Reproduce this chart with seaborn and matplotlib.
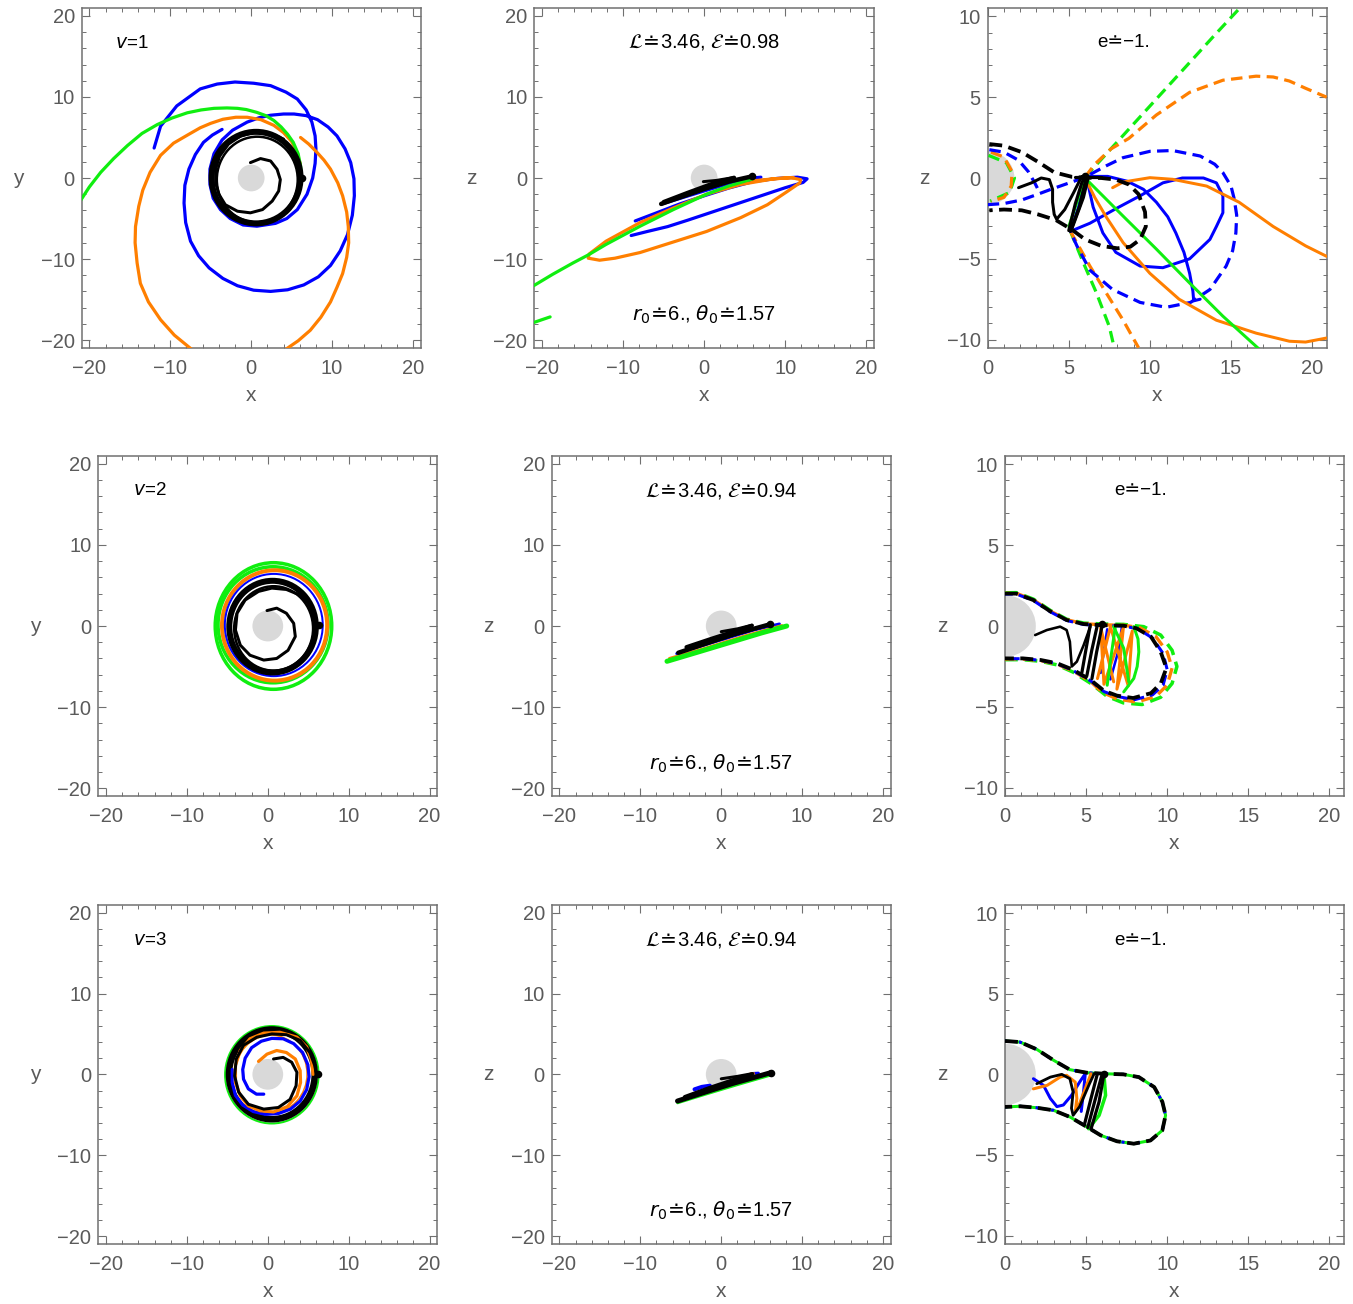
import matplotlib
matplotlib.use("Agg")
import matplotlib.pyplot as plt
import seaborn as sns
from matplotlib.patches import Circle, Ellipse
from matplotlib.ticker import MultipleLocator

# ---------------------------------------------------------------- data
# annotations
V_LABELS = ["$v$=1", "$v$=2", "$v$=3"]
LE_LABELS = [r"$\mathcal{L}\!\doteq\!$3.46, $\mathcal{E}\!\doteq\!$0.98",
             r"$\mathcal{L}\!\doteq\!$3.46, $\mathcal{E}\!\doteq\!$0.94",
             r"$\mathcal{L}\!\doteq\!$3.46, $\mathcal{E}\!\doteq\!$0.94"]
R0_LABEL = r"$r_0\!\doteq\!$6., $\theta_0\!\doteq\!$1.57"
E_LABEL = "e≐−1."
DISK_R = [1.65, 1.9, 1.9]

# ---- row 1, x-y
P11_BLUE = [(-12.0, 3.7), (-11.2, 6.4), (-9.2, 8.9), (-6.3, 11.0), (-4.2, 11.6), (-2.0, 11.85), (0.3, 11.7),
            (2.4, 11.4), (4.3, 10.6), (5.7, 9.75), (6.8, 8.4), (7.5, 6.9), (7.9, 5.2), (8.0, 3.6), (7.9, 1.8),
            (7.6, 0.0), (6.9, -2.0), (5.7, -3.9), (4.4, -5.0), (3.0, -5.6), (0.7, -5.95), (-1.0, -5.8),
            (-2.6, -5.0), (-3.8, -3.9), (-4.7, -2.5), (-5.1, -0.8), (-5.1, 1.1), (-4.6, 3.0), (-3.6, 4.7),
            (-2.3, 5.9), (-0.5, 6.9), (1.0, 7.45), (2.4, 7.75), (4.0, 7.9), (5.3, 7.9), (6.8, 7.7), (8.2, 7.2),
            (9.5, 6.3), (10.6, 5.2), (11.6, 3.6), (12.3, 1.9), (12.7, -0.1), (12.75, -2.2), (12.5, -4.6),
            (11.9, -7.0), (11.0, -9.0), (9.8, -10.8), (8.3, -12.2), (6.5, -13.2), (4.5, -13.8), (2.4, -14.0),
            (0.3, -13.85), (-1.7, -13.3), (-3.5, -12.4), (-5.2, -11.1), (-6.5, -9.6), (-7.5, -7.8), (-8.1, -5.5),
            (-8.3, -3.1), (-8.2, -0.9), (-7.7, 1.1), (-6.9, 2.9), (-5.9, 4.4), (-4.8, 5.3), (-3.6, 6.0)]
P11_ORANGE_A = [(6.1, 0.3), (6.05, 1.8), (5.6, 3.3), (5.0, 4.5), (4.0, 5.6), (2.8, 6.5), (1.2, 7.2), (-0.5, 7.5),
                (-1.9, 7.5), (-3.5, 7.25), (-5.0, 6.75), (-6.3, 6.2), (-7.7, 5.4), (-9.6, 4.3), (-11.2, 2.8),
                (-12.5, 0.7), (-13.4, -1.5), (-13.9, -3.5), (-14.3, -6.0), (-14.35, -8.0), (-14.1, -10.5),
                (-13.7, -13.0), (-12.7, -15.3), (-11.2, -17.5), (-9.5, -19.4), (-7.3, -21.2)]
P11_ORANGE_B = [(6.1, 5.0), (7.1, 4.2), (8.1, 3.2), (9.0, 2.2), (9.8, 1.1), (10.7, -0.6), (11.3, -2.2),
                (11.8, -4.2), (12.0, -6.0), (12.05, -8.0), (11.8, -9.8), (11.3, -11.8), (10.6, -13.5),
                (9.8, -15.3), (8.6, -17.2), (7.3, -18.8), (5.8, -20.1), (4.2, -21.2)]
P11_GREEN = [(6.2, 0.25), (6.1, 1.5), (5.8, 3.0), (5.2, 4.4), (4.5, 5.4), (3.7, 6.3), (2.8, 7.1), (1.8, 7.7),
             (0.7, 8.1), (-0.6, 8.45), (-1.7, 8.6), (-3.0, 8.65), (-4.6, 8.6), (-6.2, 8.4), (-7.9, 8.05),
             (-9.8, 7.4), (-11.6, 6.6), (-13.5, 5.5), (-15.3, 4.0), (-17.0, 2.4), (-18.6, 0.7), (-20.0, -1.1),
             (-21.3, -3.1)]
P11_BLACK_SPIRAL = [(-0.1, 1.9), (1.15, 2.4), (2.4, 2.1), (3.2, 1.07), (3.6, -0.2), (3.4, -1.6), (2.6, -2.85),
                    (1.4, -3.9), (-0.1, -4.3), (-1.7, -4.1), (-3.2, -3.3), (-4.0, -2.0), (-4.4, -0.6),
                    (-4.4, 1.1), (-3.9, 2.7), (-2.8, 4.2), (-1.3, 5.2), (0.3, 5.6), (2.4, 5.5), (4.0, 4.8)]
# rings: (cx, cy, width, height, line width px)
P11_BLACK_RINGS = [(0.6, 0.05, 11.0, 11.3, 6.0), (0.75, -0.2, 10.0, 10.6, 2.5)]
P11_DOT = [(6.3, 0.0)]

# ---- row 1, x-z wide
P12_BLUE_A = [(-8.5, -5.3), (-6.0, -4.35), (-3.0, -3.2), (0.0, -2.2), (3.0, -1.25), (6.0, -0.45), (9.0, -0.05),
              (11.5, 0.1), (12.7, -0.1), (12.2, -0.55), (10.0, -1.2), (7.0, -2.2), (4.0, -3.2), (1.0, -4.2),
              (-2.0, -5.2), (-4.5, -6.0), (-7.0, -6.6), (-9.0, -7.1)]
P12_BLUE_B = [(-5.2, -3.2), (0.0, -1.6), (5.0, -0.1), (7.0, 0.1)]
P12_ORANGE = [(6.0, -0.35), (8.6, -0.1), (10.7, 0.05), (11.9, -0.2), (11.8, -0.6), (10.2, -1.7), (7.8, -3.3),
              (4.5, -4.9), (0.3, -6.6), (-3.8, -7.9), (-7.9, -9.2), (-11.0, -9.9), (-12.9, -10.15),
              (-14.3, -9.9), (-14.2, -9.4), (-12.1, -7.8), (-7.9, -5.5), (-3.8, -3.7), (0.3, -2.0),
              (4.5, -0.8), (8.6, -0.1), (11.0, 0.05)]
P12_GREEN_A = [(6.0, -0.1), (3.0, -1.0), (0.3, -2.0), (-3.8, -3.9), (-7.9, -5.95), (-12.1, -8.2),
               (-14.3, -9.5), (-16.2, -10.5), (-18.7, -11.9), (-21.2, -13.4)]
P12_GREEN_B = [(-21.2, -17.9), (-19.0, -17.15)]
P12_BLACK_A = [(-5.3, -3.2), (-3.0, -2.4), (0.0, -1.35), (3.0, -0.45), (5.9, 0.2)]
P12_BLACK_B = [(-5.0, -2.95), (-2.0, -1.8), (1.0, -0.7), (3.7, 0.05)]
P12_BLACK_C = [(-0.1, -0.45), (1.5, -0.3), (3.6, 0.05)]
P12_DOT = [(5.95, 0.25)]

# ---- row 1, x-z zoom
P13_BLACK_DASH = [(0.1, 2.1), (1.0, 2.0), (2.1, 1.6), (3.1, 1.0), (4.1, 0.35), (5.2, 0.07), (6.0, 0.02),
                  (7.0, 0.0), (7.9, -0.1), (8.7, -0.4), (9.3, -1.0), (9.7, -2.1), (9.75, -3.0), (9.4, -3.8),
                  (8.8, -4.25), (8.0, -4.35), (7.0, -4.2), (6.0, -3.8), (5.2, -3.2), (4.2, -2.6), (3.1, -2.25),
                  (2.1, -2.0), (1.0, -1.95), (0.1, -2.0)]
P13_BLUE_DASH_A = [(0.1, 1.75), (1.0, 1.6), (1.9, 1.1), (2.5, 0.4), (2.9, -0.3), (3.2, -0.9)]
P13_BLUE_DASH_B = [(0.0, -1.65), (1.0, -1.58), (2.1, -1.36), (3.1, -1.0), (3.9, -0.7), (4.75, -0.4), (5.6, -0.1),
                   (6.0, 0.05), (7.3, 0.75), (8.35, 1.26), (10.0, 1.65), (11.4, 1.7), (13.1, 1.36), (14.0, 0.85),
                   (14.5, 0.33), (15.0, -0.5), (15.2, -1.3), (15.35, -2.3), (15.3, -3.4), (15.1, -4.5),
                   (14.7, -5.45), (13.7, -6.9), (12.5, -7.7), (11.0, -8.0), (9.4, -7.7), (7.7, -6.9),
                   (6.3, -5.7), (5.5, -4.2), (5.1, -3.3)]
P13_ORANGE_DASH_A = [(0.2, 1.6), (1.0, 1.3), (1.5, 0.4), (1.45, -0.5), (1.0, -1.2), (0.2, -1.45)]
P13_ORANGE_DASH_B = [(6.0, 0.05), (6.6, 0.85), (7.6, 1.8), (8.7, 2.45), (10.4, 3.9), (12.45, 5.3), (14.5, 6.05),
                     (16.55, 6.3), (17.6, 6.25), (18.6, 6.0), (19.6, 5.55), (20.9, 5.0)]
P13_ORANGE_DASH_C = [(5.1, -3.3), (6.3, -5.45), (7.3, -7.1), (8.35, -8.8), (9.3, -10.5)]
P13_GREEN_DASH_A = [(0.05, 1.4), (1.15, 0.95), (1.65, 0.0), (1.35, -0.9), (0.15, -1.43)]
P13_GREEN_DASH_B = [(6.0, 0.05), (8.0, 2.25), (10.0, 4.45), (12.0, 6.65), (14.0, 8.85), (15.9, 10.9)]
P13_GREEN_DASH_C = [(5.1, -3.3), (5.9, -5.25), (6.7, -7.1), (7.5, -9.2), (7.8, -10.5)]
P13_BLUE_A = [(5.1, -3.3), (6.3, -2.8), (7.9, -1.9), (9.4, -1.1), (10.8, -0.3), (12.0, 0.0), (13.3, 0.0),
              (14.1, -0.3), (14.5, -1.1), (14.5, -2.15), (14.1, -3.0), (13.7, -3.8), (12.45, -5.0),
              (10.8, -5.55), (9.4, -5.45), (7.9, -4.6), (7.1, -3.4), (6.5, -1.8), (6.1, 0.0)]
P13_BLUE_B = [(6.2, 0.1), (7.4, 0.1), (8.6, -0.2), (9.6, -0.7), (10.4, -1.5), (11.1, -2.4), (11.6, -3.4),
              (12.1, -4.6), (12.45, -5.9), (12.65, -7.0), (12.7, -7.6), (13.1, -7.5)]
P13_BLUE_C = [(5.1, -3.3), (5.6, -1.8), (6.0, 0.0)]
P13_ORANGE_A = [(6.0, 0.0), (6.6, -1.2), (7.3, -2.4), (8.35, -4.0), (10.0, -5.9), (11.8, -7.5), (14.1, -8.8),
                (16.55, -9.6), (18.6, -10.1), (19.6, -10.15), (20.9, -9.9)]
P13_ORANGE_B = [(7.7, -0.6), (8.35, -0.25), (10.0, 0.02), (11.4, -0.08), (13.5, -0.5), (15.5, -1.5),
                (17.6, -3.0), (19.6, -4.2), (20.9, -4.85)]
P13_GREEN_A = [(6.0, 0.0), (8.35, -2.36), (10.4, -4.4), (12.45, -6.5), (14.5, -8.55), (16.75, -10.6)]
P13_GREEN_B = [(5.0, -3.0), (5.5, -1.5), (5.95, 0.0)]
P13_BLACK_A = [(1.9, -0.6), (2.7, -0.3), (3.3, 0.0), (3.8, -0.1), (4.0, -0.7), (4.0, -1.5), (4.1, -2.25),
               (4.25, -2.55), (4.75, -1.95), (5.3, -0.9), (5.8, 0.1)]
P13_BLACK_B = [(5.0, -3.25), (5.4, -1.6), (5.8, -0.3), (6.0, 0.1)]
P13_BLACK_C = [(5.1, -3.3), (5.65, -1.8), (6.05, -0.1)]
P13_BLACK_D = [(5.2, -3.1), (5.9, -1.2), (6.2, 0.05)]
P13_BLACK_E = [(5.4, 0.05), (7.0, 0.05)]
P13_DOT = [(6.0, 0.1)]

# ---- row 2, x-y
# rings: (color, cx, cy, width, height, line width px)
P21_RINGS = [("green", 0.7, 0.0, 14.4, 15.6, 3.5), ("green", 0.65, 0.15, 13.6, 14.3, 3.5),
             ("orange", 0.84, 0.07, 13.0, 13.6, 4.0), ("blue", 0.74, 0.12, 12.1, 12.6, 2.0),
             ("black", 0.59, -0.08, 10.7, 11.3, 6.0), ("black", 0.72, -0.3, 9.75, 10.4, 2.5)]
P21_BLACK_SPIRAL = [(-0.1, 1.9), (1.1, 2.2), (2.3, 1.57), (3.2, 0.33), (3.4, -1.3), (2.5, -3.0), (1.1, -4.0),
                    (-0.5, -4.2), (-2.2, -3.6), (-3.4, -2.36), (-4.0, -0.5), (-3.8, 1.57), (-2.8, 3.2),
                    (-1.15, 4.26), (0.5, 4.67), (2.3, 4.5), (4.0, 3.8), (5.2, 2.6), (5.8, 1.16), (6.0, -0.1)]
P21_DOT = [(6.3, 0.1)]

# ---- row 2, x-z wide
P22_BLUE = [(-5.5, -3.4), (0.0, -1.7), (4.0, -0.5), (7.2, 0.25)]
P22_ORANGE = [(-6.4, -4.0), (-2.0, -2.75), (3.0, -1.2), (7.5, 0.05)]
P22_GREEN = [(-6.7, -4.35), (-3.0, -3.25), (1.0, -2.05), (5.0, -0.85), (8.1, 0.0)]
P22_BLACK_A = [(-5.3, -3.3), (-2.0, -2.2), (1.5, -1.05), (4.0, -0.35), (6.0, 0.2)]
P22_BLACK_B = [(-4.3, -2.6), (-1.0, -1.5), (2.0, -0.55), (3.8, 0.05)]
P22_BLACK_C = [(0.0, -0.7), (2.0, -0.35), (3.8, 0.1)]
P22_DOT = [(6.0, 0.25)]

# ---- row 2, x-z zoom
P23_BLACK_DASH = [(0.0, 2.0), (0.7, 2.0), (1.75, 1.6), (2.8, 0.9), (3.8, 0.37), (4.85, 0.12), (6.1, 0.05),
                  (7.3, 0.02), (8.1, -0.14), (9.0, -0.66), (9.6, -1.6), (9.95, -2.6), (9.6, -3.55), (9.0, -4.15),
                  (7.9, -4.45), (6.9, -4.3), (6.1, -4.0), (5.3, -3.35), (4.2, -2.7), (3.2, -2.3), (2.2, -2.1),
                  (1.1, -2.0), (0.0, -2.0)]
P23_BLUE_DASH = [(0.0, 1.97), (0.7, 1.97), (1.75, 1.57), (2.8, 0.87), (3.8, 0.34), (4.85, 0.09), (6.1, 0.02),
                 (7.3, 0.0), (8.2, -0.18), (9.1, -0.75), (9.75, -1.7), (10.0, -2.7), (9.75, -3.65), (9.1, -4.25),
                 (8.0, -4.55), (6.9, -4.35), (6.1, -4.05), (5.3, -3.4), (4.2, -2.75), (3.2, -2.33), (2.2, -2.12),
                 (1.1, -2.02), (0.0, -2.02)]
P23_ORANGE_DASH = [(0.0, 2.02), (0.7, 2.02), (1.75, 1.62), (2.8, 0.92), (3.8, 0.39), (4.85, 0.14), (6.1, 0.07),
                   (7.3, 0.05), (8.3, -0.1), (9.3, -0.65), (10.0, -1.6), (10.3, -2.6), (10.0, -3.65), (9.3, -4.35),
                   (8.1, -4.7), (6.9, -4.5), (6.0, -4.1), (5.3, -3.45), (4.2, -2.78), (3.2, -2.36), (2.2, -2.14),
                   (1.1, -2.04), (0.0, -2.04)]
P23_GREEN_DASH = [(0.0, 2.05), (0.7, 2.06), (1.75, 1.66), (2.8, 0.96), (3.8, 0.42), (4.85, 0.18), (6.1, 0.12),
                  (7.3, 0.1), (8.55, -0.04), (9.6, -0.56), (10.3, -1.5), (10.6, -2.5), (10.3, -3.55), (9.6, -4.4),
                  (8.45, -4.85), (7.3, -4.75), (6.3, -4.35), (5.3, -3.55), (4.2, -2.85), (3.2, -2.4), (2.2, -2.18),
                  (1.1, -2.08), (0.0, -2.08)]
P23_BLUE_A = [(5.9, -2.9), (6.3, -0.2)]
P23_BLUE_B = [(6.5, -3.3), (7.0, -1.5), (7.2, -0.1)]
P23_ORANGE_Z = [(5.7, -3.25), (6.5, -0.05), (7.6, -3.7), (7.85, -0.3), (6.9, -3.9), (7.3, -0.1), (6.1, -3.6),
                (5.9, -0.1), (6.7, -3.45)]
P23_GREEN_A = [(6.3, -3.66), (6.55, -1.8), (6.8, -0.04)]
P23_GREEN_B = [(6.7, -0.04), (7.32, -1.38), (7.63, -3.45)]
P23_GREEN_C = [(7.94, -0.04), (8.2, -0.8), (8.25, -1.6), (8.15, -2.5), (7.94, -3.24), (7.32, -4.07)]
P23_BLACK_A = [(1.86, -0.56), (2.58, -0.25), (3.4, -0.04), (3.8, -0.25), (4.0, -0.97), (4.06, -1.8),
               (4.12, -2.5), (4.43, -2.2), (4.85, -1.18), (5.26, -0.04)]
P23_BLACK_B = [(4.74, -2.87), (5.0, -1.4), (5.26, 0.08)]
P23_BLACK_C = [(5.05, -3.05), (5.35, -1.5), (5.7, 0.08)]
P23_BLACK_D = [(5.36, -3.25), (5.65, -1.6), (6.0, 0.08)]
P23_DOT = [(6.0, 0.1)]

# ---- row 3, x-y
P31_RINGS = [("green", 0.5, -0.05, 11.56, 12.06, 2.0), ("black", 0.5, 0.0, 10.6, 11.1, 6.5),
             ("orange", 0.4, 0.05, 8.9, 9.6, 1.5)]
P31_BLUE = [(-0.5, -2.45), (-1.4, -2.45), (-2.4, -1.8), (-3.0, -0.6), (-3.1, 0.6), (-2.8, 2.0), (-2.0, 3.3),
            (-0.8, 4.1), (0.5, 4.45), (1.9, 4.4), (3.2, 3.8), (4.3, 2.7), (4.95, 1.2), (5.1, -0.3), (4.8, -1.9),
            (4.0, -3.3), (2.8, -4.3), (1.3, -4.85), (-0.3, -4.95), (-1.8, -4.6), (-3.1, -3.8), (-4.0, -2.6),
            (-4.4, -1.0), (-4.4, 0.6)]
P31_ORANGE = [(-1.15, 1.6), (-0.1, 2.5), (1.1, 2.95), (2.3, 2.7), (3.4, 1.9), (4.0, 0.46), (4.05, -1.0),
              (3.6, -2.66), (2.4, -4.0), (0.7, -4.65), (-0.95, -4.5), (-2.4, -3.9), (-3.4, -2.66), (-4.0, -1.0),
              (-4.0, 1.1), (-3.4, 2.95), (-2.2, 4.4), (-0.5, 5.1), (1.5, 5.2), (3.6, 4.6), (4.8, 3.4), (5.4, 1.7),
              (5.6, 0.0)]
P31_BLACK = [(0.7, 1.9), (1.9, 2.1), (2.95, 1.5), (3.6, 0.25), (3.5, -1.4), (2.75, -3.1), (1.3, -4.1),
             (-0.5, -4.3), (-2.4, -3.7), (-3.6, -2.2), (-4.1, -0.2), (-3.9, 1.9), (-3.0, 3.6), (-1.35, 4.6),
             (0.5, 5.0), (2.3, 4.9), (4.0, 4.2), (5.2, 2.7), (5.8, 1.1), (6.0, 0.0)]
P31_DOT = [(6.2, 0.0)]

# ---- row 3, x-z wide
P32_GREEN = [(-5.4, -3.55), (-2.0, -2.5), (2.0, -1.3), (6.0, -0.15)]
P32_BLUE_A = [(-3.3, -1.85), (-2.4, -1.55), (-1.4, -1.4)]
P32_BLUE_B = [(3.8, 0.1), (4.6, 0.15)]
P32_ORANGE = [(3.6, 0.05), (4.0, 0.1)]
P32_BLACK_A = [(-5.4, -3.3), (-2.0, -2.2), (1.5, -1.1), (4.0, -0.4), (6.1, 0.2)]
P32_BLACK_B = [(-4.5, -2.8), (-1.5, -1.7), (1.5, -0.7), (3.8, 0.0)]
P32_BLACK_C = [(0.0, -0.55), (2.0, -0.25), (3.9, 0.1)]
P32_DOT = [(6.1, 0.2)]

# ---- row 3, x-z zoom
P33_BOUNDARY = [(0.0, 2.07), (0.93, 2.0), (1.96, 1.55), (3.0, 0.87), (4.0, 0.29), (5.05, 0.1), (6.1, 0.04),
                (7.3, 0.0), (8.25, -0.17), (9.2, -0.79), (9.7, -1.7), (9.9, -2.54), (9.7, -3.47), (8.97, -4.1),
                (7.94, -4.3), (6.9, -4.15), (5.9, -3.78), (5.05, -3.26), (4.0, -2.64), (3.0, -2.23),
                (1.96, -2.07), (0.93, -1.98), (0.0, -2.02)]
P33_BLUE = [(1.75, -0.27), (2.37, -0.68), (2.8, -1.5), (3.2, -2.0), (3.6, -1.9), (4.1, -1.3), (4.6, -0.48),
            (4.95, 0.04), (4.85, -1.0), (4.7, -2.3)]
P33_ORANGE = [(1.75, -0.9), (2.6, -0.68), (3.4, -0.17), (3.8, -0.06), (4.33, -0.48), (4.43, -1.5), (4.33, -2.33),
              (4.6, -1.8), (5.3, 0.04)]
P33_GREEN = [(6.1, 0.0), (6.2, -1.3), (5.8, -2.54), (5.15, -3.37)]
P33_BLACK_A = [(1.96, -0.58), (2.8, -0.17), (3.5, 0.0), (4.0, -0.27), (4.2, -1.1), (4.1, -2.1), (4.2, -2.54),
               (4.6, -2.0), (5.2, -0.6), (5.5, 0.05)]
P33_BLACK_B = [(4.9, -3.1), (5.3, -1.5), (5.7, 0.05)]
P33_BLACK_C = [(5.1, -3.3), (5.55, -1.6), (6.0, 0.05)]
P33_BLACK_D = [(5.3, -3.4), (5.8, -1.7), (6.1, 0.0)]
P33_DOT = [(6.1, 0.05)]

# ---------------------------------------------------------------- style
COL = {"blue": "#0000FF", "orange": "#FF7F00", "green": "#10EE10", "black": "#000000"}
DISK_C = "#D9D9D9"
FRAME_C = "#707070"
TEXT_C = "#5a5a5a"
PX = 0.72  # points per pixel at dpi 100

sns.set_theme(style="white")
plt.rcParams["font.family"] = ["Liberation Sans", "DejaVu Sans"]
plt.rcParams["mathtext.fontset"] = "dejavusans"

fig = plt.figure(figsize=(13.53, 13.04), dpi=100)


def add_ax(l, r, t, b):
    return fig.add_axes([l / 1353, 1 - b / 1304, (r - l) / 1353, (b - t) / 1304])


def draw(ax, pts, color, lw_px, dash=None, z=3, offset=0.0):
    xs = [p[0] for p in pts]
    ys = [p[1] for p in pts]
    ls = (offset, dash) if dash else "-"
    sns.lineplot(x=xs, y=ys, ax=ax, color=COL[color], linewidth=lw_px * PX, linestyle=ls,
                 sort=False, estimator=None, zorder=z, solid_joinstyle="round",
                 solid_capstyle="round", dash_capstyle="butt", dash_joinstyle="round", legend=False)


def ring(ax, spec, z):
    color, cx, cy, w, h, lw = spec
    ax.add_patch(Ellipse((cx, cy), w, h, fill=False, edgecolor=COL[color], linewidth=lw * PX, zorder=z))


def dot(ax, pts):
    sns.scatterplot(x=[p[0] for p in pts], y=[p[1] for p in pts], ax=ax, color="black",
                    s=30, edgecolor="black", linewidth=0, zorder=9, legend=False)


def disk(ax, r):
    ax.add_patch(Circle((0, 0), r, facecolor=DISK_C, edgecolor="none", zorder=1))


def style(ax, kind, ylab):
    if kind == "zoom":
        ax.set_xlim(0, 20.9)
        ax.set_ylim(-10.5, 10.5)
        maj, mnr = 5, 1
    else:
        ax.set_xlim(-20.95, 20.95)
        ax.set_ylim(-20.95, 20.95)
        maj, mnr = 10, 2
    for a in (ax.xaxis, ax.yaxis):
        a.set_major_locator(MultipleLocator(maj))
        a.set_minor_locator(MultipleLocator(mnr))
    ax.tick_params(which="both", direction="in", top=True, right=True, bottom=True, left=True,
                   color=FRAME_C, labelcolor=TEXT_C, labelsize=14.5)
    ax.tick_params(which="major", length=5.5, width=0.8)
    ax.tick_params(which="minor", length=3.0, width=0.7)
    ax.tick_params(axis="x", which="major", pad=8)
    ax.tick_params(axis="y", which="major", pad=5)
    for s in ax.spines.values():
        s.set_visible(True)
        s.set_color(FRAME_C)
        s.set_linewidth(1.1)
    ax.set_xlabel("x", color=TEXT_C, fontsize=15, va="center")
    ax.set_ylabel(ylab, color=TEXT_C, fontsize=15, rotation=0, ha="center", va="center")
    ax.xaxis.set_label_coords(0.5, -0.14)
    ax.yaxis.set_label_coords(-0.186, 0.5)
    ax.grid(False)


def note(ax, x, y, s, ha="center", size=13.5):
    ax.text(x, y, s, ha=ha, va="center", fontsize=size, color="black", zorder=10)


ROW_Y = [(8.3, 347.7), (456.0, 796.0), (905.0, 1243.7)]
COLS_R1 = [(81.7, 420.7), (534.3, 874.0), (987.7, 1326.7)]
COLS_R23 = [(98.3, 437.3), (551.7, 890.7), (1005.0, 1344.0)]

axes = []
for r in range(3):
    cols = COLS_R1 if r == 0 else COLS_R23
    t, b = ROW_Y[r]
    axes.append([add_ax(l, rr, t, b) for (l, rr) in cols])

DASH_K = (3.4, 1.7)
DASH_C = (3.6, 2.0)
BIG = 14.5

# ---------------- row 1
ax = axes[0][0]
disk(ax, DISK_R[0])
draw(ax, P11_BLUE, "blue", 3.2, z=3)
draw(ax, P11_ORANGE_A, "orange", 3.2, z=4)
draw(ax, P11_ORANGE_B, "orange", 3.2, z=4)
draw(ax, P11_GREEN, "green", 3.2, z=5)
for (cx, cy, w, h, lw) in P11_BLACK_RINGS:
    ring(ax, ("black", cx, cy, w, h, lw), 6)
draw(ax, P11_BLACK_SPIRAL, "black", 3.0, z=6)
dot(ax, P11_DOT)
note(ax, -16.8, 16.6, V_LABELS[0], ha="left")
style(ax, "xy", "y")

ax = axes[0][1]
disk(ax, DISK_R[0])
draw(ax, P12_BLUE_A, "blue", 3.2, z=3)
draw(ax, P12_BLUE_B, "blue", 3.2, z=3)
draw(ax, P12_ORANGE, "orange", 3.2, z=4)
draw(ax, P12_GREEN_A, "green", 3.2, z=5)
draw(ax, P12_GREEN_B, "green", 3.2, z=5)
draw(ax, P12_BLACK_A, "black", 4.5, z=6)
draw(ax, P12_BLACK_B, "black", 4.0, z=6)
draw(ax, P12_BLACK_C, "black", 3.0, z=6)
dot(ax, P12_DOT)
note(ax, 0, 16.8, LE_LABELS[0], size=BIG)
note(ax, 0, -16.9, R0_LABEL, size=BIG)
style(ax, "xy", "z")

ax = axes[0][2]
disk(ax, DISK_R[0])
draw(ax, P13_GREEN_DASH_A, "green", 3.2, dash=DASH_C, z=4)
draw(ax, P13_GREEN_DASH_B, "green", 3.2, dash=DASH_C, z=4)
draw(ax, P13_GREEN_DASH_C, "green", 3.2, dash=DASH_C, z=4)
draw(ax, P13_ORANGE_DASH_A, "orange", 3.2, dash=DASH_C, z=4)
draw(ax, P13_ORANGE_DASH_B, "orange", 3.2, dash=DASH_C, z=4)
draw(ax, P13_ORANGE_DASH_C, "orange", 3.2, dash=DASH_C, z=4)
draw(ax, P13_BLUE_DASH_A, "blue", 3.2, dash=DASH_C, z=4)
draw(ax, P13_BLUE_DASH_B, "blue", 3.2, dash=DASH_C, z=4)
draw(ax, P13_BLUE_A, "blue", 3.0, z=5)
draw(ax, P13_BLUE_B, "blue", 3.0, z=5)
draw(ax, P13_BLUE_C, "blue", 3.0, z=5)
draw(ax, P13_ORANGE_A, "orange", 3.0, z=5)
draw(ax, P13_ORANGE_B, "orange", 3.0, z=5)
draw(ax, P13_GREEN_A, "green", 3.0, z=5)
draw(ax, P13_GREEN_B, "green", 3.0, z=5)
draw(ax, P13_BLACK_DASH, "black", 3.8, dash=DASH_K, z=6)
draw(ax, P13_BLACK_A, "black", 3.0, z=7)
draw(ax, P13_BLACK_B, "black", 3.2, z=7)
draw(ax, P13_BLACK_C, "black", 3.2, z=7)
draw(ax, P13_BLACK_D, "black", 3.2, z=7)
draw(ax, P13_BLACK_E, "black", 3.2, z=7)
dot(ax, P13_DOT)
note(ax, 8.35, 8.4, E_LABEL)
style(ax, "zoom", "z")

# ---------------- row 2
ax = axes[1][0]
disk(ax, DISK_R[1])
for i, spec in enumerate(P21_RINGS):
    ring(ax, spec, 3 + i)
draw(ax, P21_BLACK_SPIRAL, "black", 3.0, z=9)
dot(ax, P21_DOT)
note(ax, -16.7, 16.65, V_LABELS[1], ha="left")
style(ax, "xy", "y")

ax = axes[1][1]
disk(ax, DISK_R[1])
draw(ax, P22_BLUE, "blue", 3.0, z=3)
draw(ax, P22_ORANGE, "orange", 3.0, z=4)
draw(ax, P22_GREEN, "green", 5.0, z=5)
draw(ax, P22_BLACK_A, "black", 4.5, z=6)
draw(ax, P22_BLACK_B, "black", 4.0, z=6)
draw(ax, P22_BLACK_C, "black", 3.0, z=6)
dot(ax, P22_DOT)
note(ax, 0, 16.65, LE_LABELS[1], size=BIG)
note(ax, 0, -17.0, R0_LABEL, size=BIG)
style(ax, "xy", "z")

ax = axes[1][2]
disk(ax, DISK_R[1])
draw(ax, P23_GREEN_DASH, "green", 3.5, dash=DASH_C, z=3)
draw(ax, P23_ORANGE_DASH, "orange", 3.3, dash=DASH_C, z=3, offset=2.0)
draw(ax, P23_BLUE_DASH, "blue", 3.0, dash=DASH_C, z=3, offset=1.0)
draw(ax, P23_BLUE_A, "blue", 2.5, z=4)
draw(ax, P23_BLUE_B, "blue", 2.5, z=4)
draw(ax, P23_ORANGE_Z, "orange", 3.0, z=4)
draw(ax, P23_GREEN_A, "green", 3.0, z=5)
draw(ax, P23_GREEN_B, "green", 3.0, z=5)
draw(ax, P23_GREEN_C, "green", 3.0, z=5)
draw(ax, P23_BLACK_DASH, "black", 3.8, dash=DASH_K, z=6)
draw(ax, P23_BLACK_A, "black", 2.6, z=7)
draw(ax, P23_BLACK_B, "black", 3.2, z=7)
draw(ax, P23_BLACK_C, "black", 3.2, z=7)
draw(ax, P23_BLACK_D, "black", 3.2, z=7)
dot(ax, P23_DOT)
note(ax, 8.35, 8.35, E_LABEL)
style(ax, "zoom", "z")

# ---------------- row 3
ax = axes[2][0]
disk(ax, DISK_R[2])
ring(ax, P31_RINGS[0], 3)
ring(ax, P31_RINGS[1], 4)
ring(ax, P31_RINGS[2], 5)
draw(ax, P31_BLUE, "blue", 3.2, z=6)
draw(ax, P31_ORANGE, "orange", 3.2, z=7)
draw(ax, P31_BLACK, "black", 3.0, z=8)
dot(ax, P31_DOT)
note(ax, -16.7, 16.6, V_LABELS[2], ha="left")
style(ax, "xy", "y")

ax = axes[2][1]
disk(ax, DISK_R[2])
draw(ax, P32_GREEN, "green", 2.5, z=3)
draw(ax, P32_BLUE_A, "blue", 4.0, z=4)
draw(ax, P32_BLUE_B, "blue", 3.0, z=4)
draw(ax, P32_ORANGE, "orange", 3.0, z=4)
draw(ax, P32_BLACK_A, "black", 5.0, z=6)
draw(ax, P32_BLACK_B, "black", 4.0, z=6)
draw(ax, P32_BLACK_C, "black", 3.0, z=6)
dot(ax, P32_DOT)
note(ax, 0, 16.6, LE_LABELS[2], size=BIG)
note(ax, 0, -16.9, R0_LABEL, size=BIG)
style(ax, "xy", "z")

ax = axes[2][2]
disk(ax, DISK_R[2])
draw(ax, P33_BOUNDARY, "green", 3.0, z=3)
draw(ax, P33_BOUNDARY, "blue", 3.0, dash=(1.0, 4.2), z=3, offset=0.5)
draw(ax, P33_BLUE, "blue", 3.0, z=4)
draw(ax, P33_ORANGE, "orange", 3.0, z=5)
draw(ax, P33_GREEN, "green", 3.5, z=5)
draw(ax, P33_BOUNDARY, "black", 3.8, dash=DASH_K, z=6)
draw(ax, P33_BLACK_A, "black", 2.8, z=7)
draw(ax, P33_BLACK_B, "black", 3.2, z=7)
draw(ax, P33_BLACK_C, "black", 3.2, z=7)
draw(ax, P33_BLACK_D, "black", 3.2, z=7)
dot(ax, P33_DOT)
note(ax, 8.35, 8.3, E_LABEL)
style(ax, "zoom", "z")

fig.savefig("out.png", dpi=100)
